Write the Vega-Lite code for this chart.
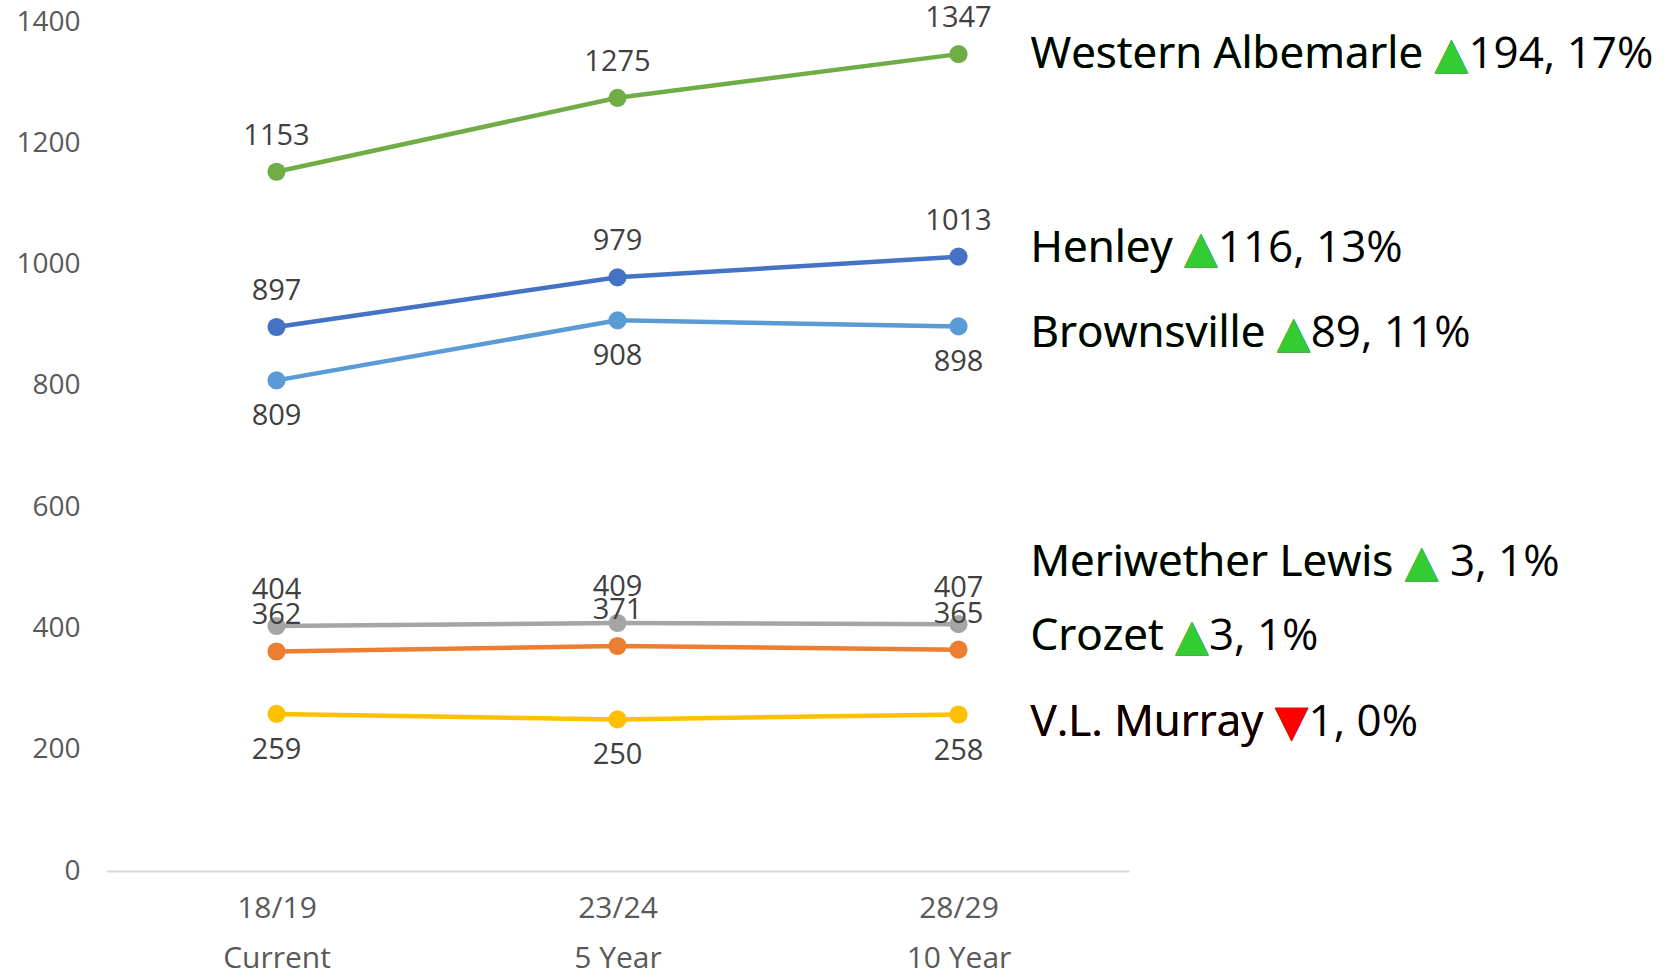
{
  "$schema": "https://vega.github.io/schema/vega-lite/v6.json",
  "width": 1023,
  "height": 849,
  "autosize": {"type": "none"},
  "padding": {"left": 106, "top": 22, "right": 538, "bottom": 107},
  "background": "white",
  "config": {"view": {"stroke": null}, "font": "Open Sans, DejaVu Sans"},
  "datasets": {
    "enroll": [
      {"school": "Western Albemarle", "period": "18/19", "students": 1153},
      {"school": "Western Albemarle", "period": "23/24", "students": 1275},
      {"school": "Western Albemarle", "period": "28/29", "students": 1347},
      {"school": "Henley", "period": "18/19", "students": 897},
      {"school": "Henley", "period": "23/24", "students": 979},
      {"school": "Henley", "period": "28/29", "students": 1013},
      {"school": "Brownsville", "period": "18/19", "students": 809},
      {"school": "Brownsville", "period": "23/24", "students": 908},
      {"school": "Brownsville", "period": "28/29", "students": 898},
      {"school": "Meriwether Lewis", "period": "18/19", "students": 404},
      {"school": "Meriwether Lewis", "period": "23/24", "students": 409},
      {"school": "Meriwether Lewis", "period": "28/29", "students": 407},
      {"school": "Crozet", "period": "18/19", "students": 362},
      {"school": "Crozet", "period": "23/24", "students": 371},
      {"school": "Crozet", "period": "28/29", "students": 365},
      {"school": "V.L. Murray", "period": "18/19", "students": 259},
      {"school": "V.L. Murray", "period": "23/24", "students": 250},
      {"school": "V.L. Murray", "period": "28/29", "students": 258}
    ],
    "notes": [
      {"school": "Western Albemarle", "arrow": "▲", "change": "194, 17%"},
      {"school": "Henley", "arrow": "▲", "change": "116, 13%"},
      {"school": "Brownsville", "arrow": "▲", "change": "89, 11%"},
      {"school": "Meriwether Lewis", "arrow": "▲", "change": " 3, 1%"},
      {"school": "Crozet", "arrow": "▲", "change": "3, 1%"},
      {"school": "V.L. Murray", "arrow": "▼", "change": "1, 0%"}
    ]
  },
  "data": {"name": "enroll"},
  "encoding": {
    "x": {
      "field": "period",
      "type": "ordinal",
      "scale": {"type": "point", "padding": 0.5, "domain": ["18/19", "23/24", "28/29"]},
      "axis": {
        "title": null,
        "labelAngle": 0,
        "domainColor": "#D9D9D9",
        "domainWidth": 2,
        "ticks": false,
        "labelFontSize": 30,
        "labelColor": "#595959",
        "labelPadding": 22,
        "labelLineHeight": 50,
        "labelExpr": "[datum.label, datum.label == '18/19' ? 'Current' : datum.label == '23/24' ? '5 Year' : '10 Year']"
      }
    },
    "y": {
      "field": "students",
      "type": "quantitative",
      "scale": {"domain": [0, 1400], "nice": false},
      "axis": {
        "title": null,
        "domain": false,
        "ticks": false,
        "grid": false,
        "format": "d",
        "values": [0, 200, 400, 600, 800, 1000, 1200, 1400],
        "labelFontSize": 28,
        "labelColor": "#595959",
        "labelPadding": 26
      }
    }
  },
  "layer": [
    {
      "mark": {"type": "line", "strokeWidth": 4.5},
      "encoding": {
        "color": {
          "field": "school",
          "type": "nominal",
          "scale": {
            "domain": ["Western Albemarle", "Henley", "Brownsville", "Meriwether Lewis", "Crozet", "V.L. Murray"],
            "range": ["#70AD47", "#4472C4", "#5B9BD5", "#A5A5A5", "#ED7D31", "#FFC000"]
          },
          "legend": null
        }
      }
    },
    {
      "mark": {"type": "circle", "size": 330, "opacity": 1},
      "encoding": {
        "color": {"field": "school", "type": "nominal", "legend": null}
      }
    },
    {
      "transform": [{"filter": "datum.school != 'Brownsville' && datum.school != 'V.L. Murray'"}],
      "mark": {"type": "text", "dy": -36, "fontSize": 29, "color": "#404040"},
      "encoding": {"text": {"field": "students", "type": "quantitative", "format": "d"}}
    },
    {
      "transform": [{"filter": "datum.school == 'Brownsville' || datum.school == 'V.L. Murray'"}],
      "mark": {"type": "text", "dy": 36, "fontSize": 29, "color": "#404040"},
      "encoding": {"text": {"field": "students", "type": "quantitative", "format": "d"}}
    },
    {
      "transform": [
        {"filter": "datum.period == '28/29'"},
        {"lookup": "school", "from": {"data": {"name": "notes"}, "key": "school", "fields": ["arrow", "change"]}},
        {"calculate": "datum.school + ' ' + datum.arrow", "as": "head"},
        {"calculate": "datum.head + datum.change", "as": "full"}
      ],
      "layer": [
        {
          "transform": [{"filter": "datum.school == 'Western Albemarle'"}],
          "layer": [
            {"mark": {"type": "text", "align": "left", "dx": 72, "dy": 1, "fontSize": 44, "color": "#000000"}, "encoding": {"text": {"field": "full"}}},
            {"mark": {"type": "text", "align": "left", "dx": 72, "dy": 1, "fontSize": 44}, "encoding": {"text": {"field": "head"}, "color": {"condition": {"test": "datum.arrow == '▼'", "value": "#FF0000"}, "value": "#33CC33"}}},
            {"mark": {"type": "text", "align": "left", "dx": 72, "dy": 1, "fontSize": 44, "color": "#000000"}, "encoding": {"text": {"field": "school"}}}
          ]
        },
        {
          "transform": [{"filter": "datum.school == 'Henley'"}],
          "layer": [
            {"mark": {"type": "text", "align": "left", "dx": 72, "dy": -8, "fontSize": 44, "color": "#000000"}, "encoding": {"text": {"field": "full"}}},
            {"mark": {"type": "text", "align": "left", "dx": 72, "dy": -8, "fontSize": 44}, "encoding": {"text": {"field": "head"}, "color": {"condition": {"test": "datum.arrow == '▼'", "value": "#FF0000"}, "value": "#33CC33"}}},
            {"mark": {"type": "text", "align": "left", "dx": 72, "dy": -8, "fontSize": 44, "color": "#000000"}, "encoding": {"text": {"field": "school"}}}
          ]
        },
        {
          "transform": [{"filter": "datum.school == 'Brownsville'"}],
          "layer": [
            {"mark": {"type": "text", "align": "left", "dx": 72, "dy": 8, "fontSize": 44, "color": "#000000"}, "encoding": {"text": {"field": "full"}}},
            {"mark": {"type": "text", "align": "left", "dx": 72, "dy": 8, "fontSize": 44}, "encoding": {"text": {"field": "head"}, "color": {"condition": {"test": "datum.arrow == '▼'", "value": "#FF0000"}, "value": "#33CC33"}}},
            {"mark": {"type": "text", "align": "left", "dx": 72, "dy": 8, "fontSize": 44, "color": "#000000"}, "encoding": {"text": {"field": "school"}}}
          ]
        },
        {
          "transform": [{"filter": "datum.school == 'Meriwether Lewis'"}],
          "layer": [
            {"mark": {"type": "text", "align": "left", "dx": 72, "dy": -61, "fontSize": 44, "color": "#000000"}, "encoding": {"text": {"field": "full"}}},
            {"mark": {"type": "text", "align": "left", "dx": 72, "dy": -61, "fontSize": 44}, "encoding": {"text": {"field": "head"}, "color": {"condition": {"test": "datum.arrow == '▼'", "value": "#FF0000"}, "value": "#33CC33"}}},
            {"mark": {"type": "text", "align": "left", "dx": 72, "dy": -61, "fontSize": 44, "color": "#000000"}, "encoding": {"text": {"field": "school"}}}
          ]
        },
        {
          "transform": [{"filter": "datum.school == 'Crozet'"}],
          "layer": [
            {"mark": {"type": "text", "align": "left", "dx": 72, "dy": -13, "fontSize": 44, "color": "#000000"}, "encoding": {"text": {"field": "full"}}},
            {"mark": {"type": "text", "align": "left", "dx": 72, "dy": -13, "fontSize": 44}, "encoding": {"text": {"field": "head"}, "color": {"condition": {"test": "datum.arrow == '▼'", "value": "#FF0000"}, "value": "#33CC33"}}},
            {"mark": {"type": "text", "align": "left", "dx": 72, "dy": -13, "fontSize": 44, "color": "#000000"}, "encoding": {"text": {"field": "school"}}}
          ]
        },
        {
          "transform": [{"filter": "datum.school == 'V.L. Murray'"}],
          "layer": [
            {"mark": {"type": "text", "align": "left", "dx": 72, "dy": 8, "fontSize": 44, "color": "#000000"}, "encoding": {"text": {"field": "full"}}},
            {"mark": {"type": "text", "align": "left", "dx": 72, "dy": 8, "fontSize": 44}, "encoding": {"text": {"field": "head"}, "color": {"condition": {"test": "datum.arrow == '▼'", "value": "#FF0000"}, "value": "#33CC33"}}},
            {"mark": {"type": "text", "align": "left", "dx": 72, "dy": 8, "fontSize": 44, "color": "#000000"}, "encoding": {"text": {"field": "school"}}}
          ]
        }
      ]
    }
  ]
}
